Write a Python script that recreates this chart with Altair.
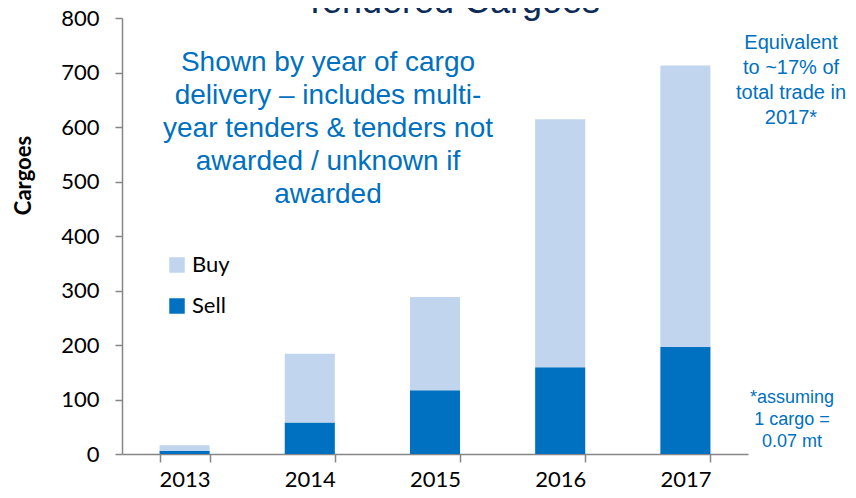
import altair as alt
import pandas as pd

years = ["2013", "2014", "2015", "2016", "2017"]
sell = [6, 58, 117, 159, 197]
buy = [10, 126, 171, 455, 516]

series_names = ["Buy", "Sell"]
series_colors = ["#C1D5EE", "#0070C0"]

title_text = "Tendered Cargoes"
note_main = ["Shown by year of cargo", "delivery \u2013 includes multi-",
             "year tenders & tenders not", "awarded / unknown if", "awarded"]
note_right = ["Equivalent", "to ~17% of", "total trade in", "2017*"]
note_foot = ["*assuming", "1 cargo =", "0.07 mt"]

rows = []
for y, s, b in zip(years, sell, buy):
    rows.append({"year": y, "type": "Sell", "value": s, "order": 0})
    rows.append({"year": y, "type": "Buy", "value": b, "order": 1})
df = pd.DataFrame(rows)

W, H = 626, 436
TICK_FONT = "Lato"
BLUE = "#0070C0"

bars = alt.Chart(df).mark_bar().encode(
    x=alt.X("year:N", title=None, sort=years,
            scale=alt.Scale(paddingInner=0.6, paddingOuter=0.3),
            axis=alt.Axis(labelAngle=0, tickBand="extent", tickSize=8,
                          labelPadding=7, labelFontSize=22, labelFont=TICK_FONT,
                          labelColor="#000000", domainColor="#868686",
                          tickColor="#868686", domainWidth=1.5, tickWidth=1.5)),
    y=alt.Y("value:Q", stack="zero", title="Cargoes",
            scale=alt.Scale(domain=[0, 800], nice=False),
            axis=alt.Axis(values=list(range(0, 801, 100)), grid=False, tickSize=7,
                          labelPadding=16, labelFontSize=22, labelFont=TICK_FONT,
                          labelColor="#000000", domainColor="#868686",
                          tickColor="#868686", domainWidth=1.5, tickWidth=1.5,
                          titleFont=TICK_FONT, titleFontSize=22, titleFontWeight="bold",
                          titleColor="#000000", titleAngle=-90, titleX=-99, titleY=157,
                          titleAlign="center", titleBaseline="middle")),
    color=alt.Color("type:N", scale=alt.Scale(domain=series_names, range=series_colors),
                    legend=alt.Legend(title=None, orient="none", legendX=44, legendY=236,
                                      symbolType="square", symbolSize=240,
                                      symbolStrokeWidth=0, labelFontSize=22,
                                      labelFont=TICK_FONT, labelColor="#000000",
                                      labelOffset=4, rowPadding=19)),
    order=alt.Order("order:Q"),
)

title_df = pd.DataFrame({"t": [title_text]})
title = alt.Chart(title_df).mark_text(
    font="Liberation Sans", fontSize=36, color="#0D2B57", baseline="alphabetic",
    align="center").encode(text="t:N", x=alt.value(330), y=alt.value(-5))

main_df = pd.DataFrame({"t": [note_main]})
main_note = alt.Chart(main_df).mark_text(
    font="Liberation Sans", fontSize=28, color=BLUE, baseline="alphabetic",
    align="center", lineHeight=33).encode(text="t", x=alt.value(206), y=alt.value(53))

right_df = pd.DataFrame({"t": [note_right]})
right_note = alt.Chart(right_df).mark_text(
    font="Liberation Sans", fontSize=20, color=BLUE, baseline="alphabetic",
    align="center", lineHeight=25).encode(text="t", x=alt.value(669), y=alt.value(31))

foot_df = pd.DataFrame({"t": [note_foot]})
foot_note = alt.Chart(foot_df).mark_text(
    font="Liberation Sans", fontSize=18, color=BLUE, baseline="alphabetic",
    align="center", lineHeight=22).encode(text="t", x=alt.value(670), y=alt.value(385))

chart = alt.layer(bars, title, main_note, right_note, foot_note).properties(
    width=W, height=H,
    autosize=alt.AutoSizeParams(type="none"),
    padding={"left": 114, "top": 10, "right": 100, "bottom": 38},
).configure_view(stroke=None)

chart.save("out.html", embed_options={"renderer": "svg", "actions": False})
